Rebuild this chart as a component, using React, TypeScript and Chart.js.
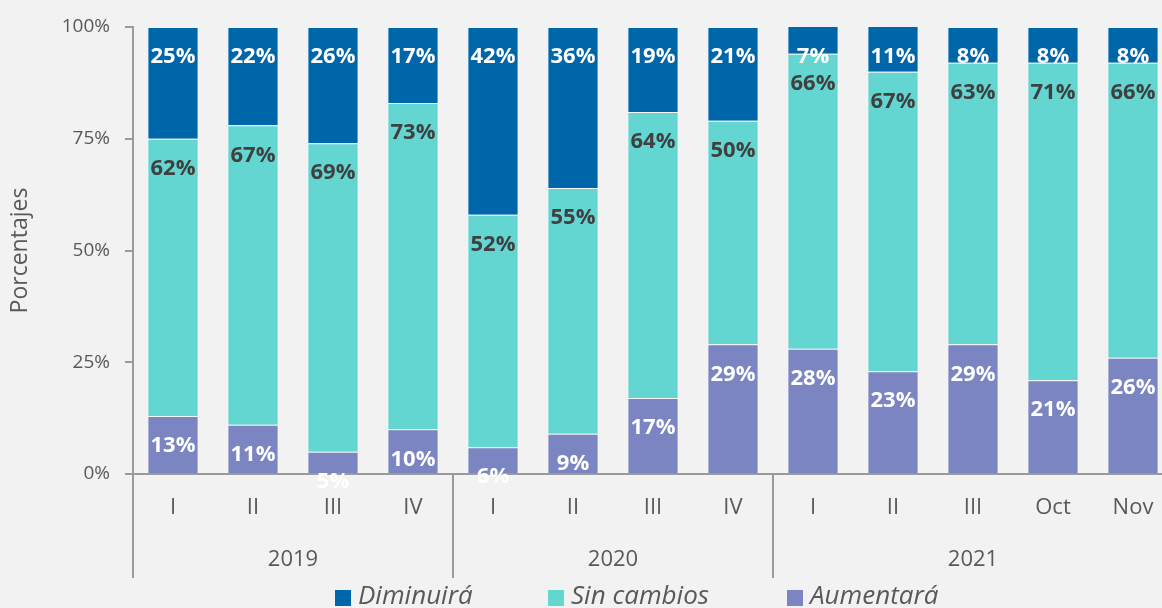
import React, { useEffect, useRef } from "react";
import { Chart, registerables } from "chart.js";

Chart.register(...registerables);

const categories = ["I", "II", "III", "IV", "I", "II", "III", "IV", "I", "II", "III", "Oct", "Nov"];
const groups = ["2019", "2020", "2021"];
const groupSizes = [4, 4, 5];
const diminuira = [25, 22, 26, 17, 42, 36, 19, 21, 7, 11, 8, 8, 8];
const sinCambios = [62, 67, 69, 73, 52, 55, 64, 50, 66, 67, 63, 71, 66];
const aumentara = [13, 11, 5, 10, 6, 9, 17, 29, 28, 23, 29, 21, 26];
const yTicks = [0, 25, 50, 75, 100];
const legendNames = ["Diminuirá", "Sin cambios", "Aumentará"];

const COLORS = { dim: "#0066AA", sin: "#63D6D2", aum: "#7A85C1" };
const TEXT = "#595959";
const AXIS = "#9A9A9A";
const BG = "#F2F2F2";
const FONT = "'Open Sans'";

const decorPlugin = {
  id: "decor",
  beforeDraw(chart: any) {
    const { ctx, width, height } = chart;
    ctx.save();
    ctx.fillStyle = BG;
    ctx.fillRect(0, 0, width, height);
    ctx.restore();
  },
  afterDraw(chart: any) {
    const { ctx, chartArea } = chart;
    const x = chart.scales.x;
    const half = (x.getPixelForValue(1) - x.getPixelForValue(0)) / 2;
    ctx.save();
    // group separators and labels
    ctx.strokeStyle = AXIS;
    ctx.lineWidth = 2;
    ctx.fillStyle = TEXT;
    ctx.font = `22px ${FONT}`;
    ctx.textAlign = "center";
    ctx.textBaseline = "middle";
    let idx = 0;
    groups.forEach((g, gi) => {
      const start = idx;
      idx += groupSizes[gi];
      const end = idx - 1;
      const left = x.getPixelForValue(start) - half;
      const right = x.getPixelForValue(end) + half;
      [left, right].forEach((px) => {
        ctx.beginPath();
        ctx.moveTo(Math.round(px), chartArea.bottom);
        ctx.lineTo(Math.round(px), chartArea.bottom + 104);
        ctx.stroke();
      });
      ctx.fillText(g, (left + right) / 2, chartArea.bottom + 86);
    });

    // data labels
    chart.data.datasets.forEach((ds: any, di: number) => {
      const meta = chart.getDatasetMeta(di);
      ctx.font = `bold 22px ${FONT}`;
      ctx.fillStyle = ds.labelColor;
      meta.data.forEach((el: any, i: number) => {
        const top = Math.max(Math.min(el.y, el.base), chartArea.top);
        ctx.fillText(ds.data[i] + "%", el.x, top + 30);
      });
    });

    // legend
    const order = [2, 1, 0];
    const legendX = [335, 548, 787];
    ctx.font = `italic 26px ${FONT}`;
    ctx.textAlign = "left";
    order.forEach((di, k) => {
      const ds = chart.data.datasets[di];
      ctx.fillStyle = ds.backgroundColor;
      ctx.fillRect(legendX[k], 590, 16, 16);
      ctx.fillStyle = TEXT;
      ctx.fillText(legendNames[k], legendX[k] + 23, 597);
    });
    ctx.restore();
  },
};

export default function App() {
  const ref = useRef<HTMLCanvasElement>(null);
  useEffect(() => {
    document.documentElement.style.overflow = "hidden";
    document.body.style.margin = "0";
    document.body.style.overflow = "hidden";
    document.body.style.background = BG;
    const chart = new Chart(ref.current as HTMLCanvasElement, {
      type: "bar",
      data: {
        labels: categories,
        datasets: [
          { label: "Aumentará", data: aumentara, backgroundColor: COLORS.aum, labelColor: "#FFFFFF" } as any,
          { label: "Sin cambios", data: sinCambios, backgroundColor: COLORS.sin, labelColor: "#404040" } as any,
          { label: "Diminuirá", data: diminuira, backgroundColor: COLORS.dim, labelColor: "#FFFFFF" } as any,
        ].map((d: any) => ({
          ...d,
          borderColor: "rgba(255,255,255,0.35)",
          borderWidth: 1,
          barPercentage: 0.64,
          categoryPercentage: 1,
        })),
      },
      options: {
        responsive: false,
        animation: false,
        layout: { padding: { left: 0, right: 7, top: 27, bottom: 0 } },
        plugins: { legend: { display: false }, tooltip: { enabled: false } },
        scales: {
          x: {
            stacked: true,
            grid: { display: false },
            border: { display: true, color: AXIS, width: 2 },
            ticks: { color: TEXT, font: { family: FONT, size: 22 }, padding: 13, maxRotation: 0, autoSkip: false },
            afterFit: (s: any) => {
              s.height = 134;
            },
          },
          y: {
            stacked: true,
            min: 0,
            max: 100,
            afterBuildTicks: (s: any) => {
              s.ticks = yTicks.map((v) => ({ value: v }));
            },
            grid: { display: true, drawOnChartArea: false, drawTicks: true, tickLength: 8, color: AXIS, lineWidth: 2 },
            border: { display: true, color: AXIS, width: 2 },
            ticks: {
              color: TEXT,
              font: { family: FONT, size: 19 },
              padding: 15,
              callback: (v: any) => v + "%",
            },
            title: {
              display: true,
              text: "Porcentajes",
              color: TEXT,
              font: { family: FONT, size: 23 },
              padding: { top: 7, bottom: 0 },
            },
            afterFit: (s: any) => {
              s.width = 133;
            },
          },
        },
      },
      plugins: [decorPlugin],
    });
    return () => chart.destroy();
  }, []);
  return (
    <div style={{ position: "fixed", left: 0, top: 0, width: 1180, height: 608 }}>
      <canvas ref={ref} width={1180} height={608} style={{ width: 1180, height: 608, display: "block" }} />
    </div>
  );
}
